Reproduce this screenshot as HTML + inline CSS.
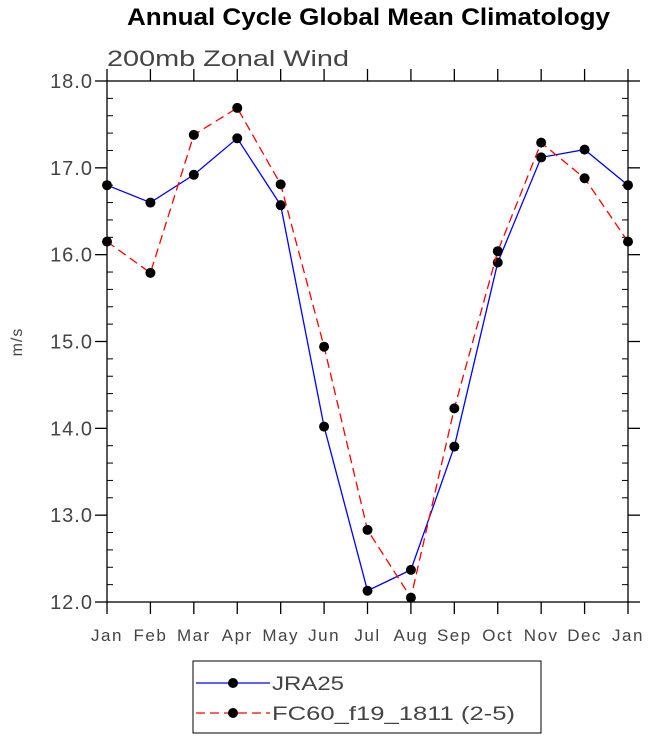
<!DOCTYPE html>
<html><head><meta charset="utf-8"><style>
body{margin:0;background:#fff}
svg{display:block}
text{font-family:"Liberation Sans",sans-serif}
</style></head><body>
<svg id="chart" width="648" height="738" viewBox="0 0 648 738">
<text x="127" y="25" textLength="483" lengthAdjust="spacingAndGlyphs" font-size="24" font-weight="bold">Annual Cycle Global Mean Climatology</text>
<text x="107" y="66" textLength="242" lengthAdjust="spacingAndGlyphs" font-size="22" fill="#444">200mb Zonal Wind</text>
<text transform="translate(22,342) rotate(-90)" text-anchor="middle" font-size="16" fill="#444" letter-spacing="1">m/s</text>
<g id="axes"></g>
<g id="series"></g>
<g>
<rect x="193" y="661" width="348" height="72" fill="none" stroke="#000" stroke-width="1"/>
<g>
<line x1="196" y1="683" x2="270" y2="683" stroke="#00f" stroke-width="1.3"/>
<circle cx="233" cy="683" r="5" fill="#000"/>
<text x="272" y="690" font-size="19" fill="#444" textLength="72" lengthAdjust="spacingAndGlyphs">JRA25</text></g>
<g>
<line x1="196" y1="713" x2="270" y2="713" stroke="#f00" stroke-width="1.3" stroke-dasharray="9,5"/>
<circle cx="233" cy="713" r="5" fill="#000"/>
<text x="272" y="720" font-size="19" fill="#444" textLength="243" lengthAdjust="spacingAndGlyphs">FC60_f19_1811 (2-5)</text></g>
</g>
</svg>
<script>
const months=["Jan","Feb","Mar","Apr","May","Jun","Jul","Aug","Sep","Oct","Nov","Dec","Jan"];
const jra25=[16.80,16.60,16.92,17.34,16.57,14.02,12.13,12.37,13.79,15.91,17.12,17.21,16.80];
const fc60=[16.15,15.79,17.38,17.69,16.81,14.94,12.83,12.05,14.23,16.04,17.29,16.88,16.15];
const yTicks=[12,13,14,15,16,17,18];
const NS="http://www.w3.org/2000/svg";
const L=107,R=628,T=81,B=602,yMin=12,yMax=18;
const xs=i=>L+(R-L)*i/(months.length-1);
const ys=v=>B-(B-T)*(v-yMin)/(yMax-yMin);
function mk(tag,attrs,parent){const e=document.createElementNS(NS,tag);for(const k in attrs)e.setAttribute(k,attrs[k]);parent.appendChild(e);return e;}
const ax=document.getElementById('axes');
const frame=mk('rect',{x:L,y:T,width:R-L,height:B-T,fill:'none',stroke:'#000','stroke-width':1.3},ax);


months.forEach((m,i)=>{const x=xs(i);
mk('line',{x1:x,y1:B,x2:x,y2:B+12,stroke:'#000','stroke-width':1.3},ax);
mk('line',{x1:x,y1:T,x2:x,y2:T-12,stroke:'#000','stroke-width':1.3},ax);
const t=mk('text',{x:x,y:641,'text-anchor':'middle','font-size':17,fill:'#444','letter-spacing':1.5},ax);t.textContent=m;

});
yTicks.forEach(v=>{const y=ys(v);
mk('line',{x1:L-12,y1:y,x2:L,y2:y,stroke:'#000','stroke-width':1.3},ax);
mk('line',{x1:R,y1:y,x2:R+12,y2:y,stroke:'#000','stroke-width':1.3},ax);
const t=mk('text',{x:L-14,y:y+7,'text-anchor':'end','font-size':20,fill:'#444','letter-spacing':1},ax);t.textContent=v.toFixed(1);

});
for(let k=0;k<=30;k++){if(k%5===0)continue;const y=ys(yMin+k*0.2);
mk('line',{x1:L,y1:y,x2:L+6,y2:y,stroke:'#000','stroke-width':1},ax);
mk('line',{x1:R-6,y1:y,x2:R,y2:y,stroke:'#000','stroke-width':1},ax);}
const sg=document.getElementById('series');
function series(data,color,dash,name){
const g=mk('g',{},sg);


const p=mk('polyline',{points:data.map((v,i)=>xs(i)+','+ys(v)).join(' '),fill:'none',stroke:color,'stroke-width':1.3},g);
if(dash)p.setAttribute('stroke-dasharray',dash);
data.forEach((v,i)=>{const c=mk('circle',{cx:xs(i),cy:ys(v),r:5,fill:'#000'},g);

});}
series(jra25,'#00f',null,'jra25-series');
series(fc60,'#f00','9,5','fc60-series');
</script>
</body></html>
